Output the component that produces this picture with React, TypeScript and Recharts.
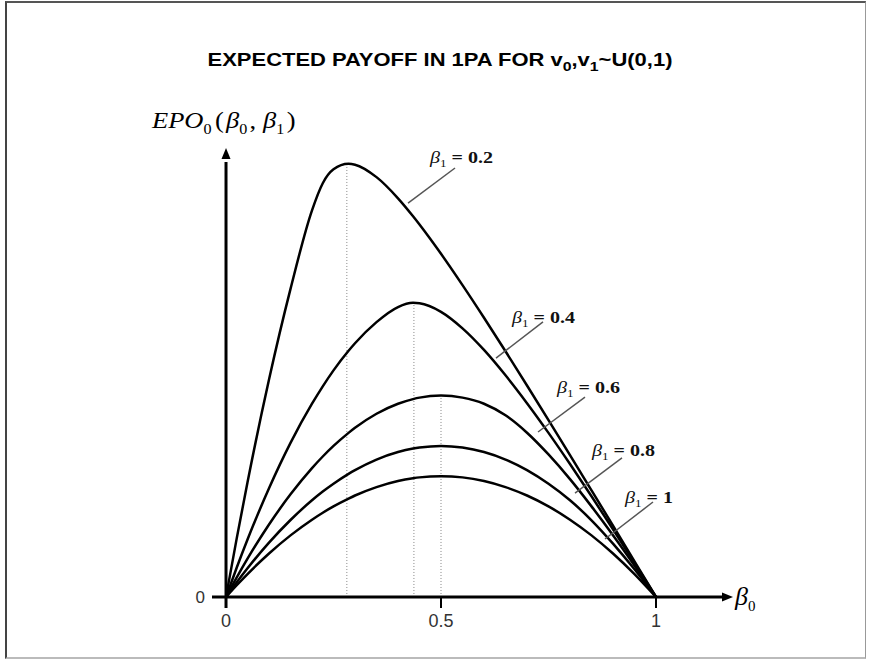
import { LineChart, Line, XAxis, YAxis, ReferenceLine, ReferenceDot } from 'recharts';

// beta_0 grid (x axis)
const BETA0 = [0, 0.025, 0.05, 0.1, 0.15, 0.2, 0.225, 0.25, 0.285, 0.3, 0.35, 0.4, 0.435, 0.45, 0.5, 0.55, 0.6, 0.65, 0.7, 0.75, 0.8, 0.85, 0.9, 0.95, 1];

// EPO_0(beta_0, beta_1), one array per beta_1
const EPO_B02 = [0, 0.0406, 0.0792, 0.15, 0.2125, 0.2667, 0.2854, 0.295, 0.2988, 0.2982, 0.2896, 0.275, 0.2626, 0.2569, 0.2367, 0.2151, 0.1926, 0.1695, 0.1459, 0.122, 0.0979, 0.0736, 0.0492, 0.0246, 0];
const EPO_B04 = [0, 0.0203, 0.0396, 0.075, 0.1063, 0.1333, 0.1453, 0.1563, 0.1698, 0.175, 0.1896, 0.2, 0.2029, 0.2026, 0.1967, 0.1853, 0.1704, 0.1529, 0.1337, 0.1132, 0.0917, 0.0695, 0.0467, 0.0235, 0];
const EPO_B06 = [0, 0.0135, 0.0264, 0.05, 0.0708, 0.0889, 0.0969, 0.1042, 0.1132, 0.1167, 0.1264, 0.1333, 0.1365, 0.1375, 0.1389, 0.1375, 0.1333, 0.1253, 0.1133, 0.0983, 0.0813, 0.0625, 0.0426, 0.0217, 0];
const EPO_B08 = [0, 0.0102, 0.0198, 0.0375, 0.0531, 0.0667, 0.0727, 0.0781, 0.0849, 0.0875, 0.0948, 0.1, 0.1024, 0.1031, 0.1042, 0.1031, 0.1, 0.0948, 0.0875, 0.0781, 0.0667, 0.0529, 0.0368, 0.0191, 0];
const EPO_B10 = [0, 0.0081, 0.0158, 0.03, 0.0425, 0.0533, 0.0581, 0.0625, 0.0679, 0.07, 0.0758, 0.08, 0.0819, 0.0825, 0.0833, 0.0825, 0.08, 0.0758, 0.07, 0.0625, 0.0533, 0.0425, 0.03, 0.0158, 0];

const BETA1_LABELS = ['0.2', '0.4', '0.6', '0.8', '1'];
const SERIES_KEYS = ['b02', 'b04', 'b06', 'b08', 'b10'];

// maxima marked with dotted drop lines
const PEAK_BETA0 = [0.281, 0.437, 0.5];
const PEAK_EPO = [0.2988, 0.2029, 0.1389];

const X_TICKS = [0, 0.5, 1];

const data = BETA0.map((b, i) => ({
  b,
  b02: EPO_B02[i],
  b04: EPO_B04[i],
  b06: EPO_B06[i],
  b08: EPO_B08[i],
  b10: EPO_B10[i],
}));

// annotation leader lines + label anchors (data coords)
const LEADERS = [
  { from: [0.4233, 0.2717], to: [0.5326, 0.2959], text: [0.4744, 0.2993] },
  { from: [0.6279, 0.1648], to: [0.7372, 0.1897], text: [0.6651, 0.189] },
  { from: [0.7256, 0.1138], to: [0.8349, 0.1379], text: [0.7698, 0.1407] },
  { from: [0.8116, 0.0717], to: [0.9209, 0.0959], text: [0.8512, 0.0972] },
  { from: [0.8814, 0.04], to: [0.993, 0.0655], text: [0.9279, 0.0648] },
];

const X_MIN = -0.0326;
const X_MAX = 1.1791;
const Y_MIN = -0.0076;
const Y_MAX = 0.3097;

const serif = "'Liberation Serif', 'Times New Roman', serif";
const sans = "'Liberation Sans', Arial, sans-serif";

const ArrowRight = (p: any) => (
  <polygon points={`${p.cx},${p.cy} ${p.cx - 11},${p.cy - 4.5} ${p.cx - 11},${p.cy + 4.5}`} fill="#000" />
);
const ArrowUp = (p: any) => (
  <polygon points={`${p.cx},${p.cy} ${p.cx - 4.5},${p.cy + 11} ${p.cx + 4.5},${p.cy + 11}`} fill="#000" />
);

// the original picture is a bit stretched sideways, so the text is too
const betaLabel = (label: string) => (p: any) => (
  <g transform={`translate(${p.cx},${p.cy}) scale(1.18,1)`}>
    <text x={0} y={0} fontFamily={serif} fontSize={17} fill="#111">
      <tspan fontStyle="italic">β</tspan>
      <tspan fontSize={11} dy={4}>1</tspan>
      <tspan dy={-4} fontWeight="bold">{' = ' + label}</tspan>
    </text>
  </g>
);

export default function App() {
  return (
    <div style={{ position: 'absolute', left: 0, top: 0, width: 870, height: 659, background: '#fff', overflow: 'hidden' }}>
      {/* frame */}
      <div
        style={{
          position: 'absolute', left: 5, top: 1, width: 861, height: 658, boxSizing: 'border-box',
          borderTop: '2px solid #555', borderLeft: '2px solid #444',
          borderRight: '1px solid #999', borderBottom: '2px solid #bbb',
        }}
      />

      {/* title */}
      <div
        style={{
          position: 'absolute', left: 440, top: 50, transform: 'translateX(-50%) scaleX(1.22)',
          whiteSpace: 'nowrap', fontFamily: sans, fontWeight: 'bold', fontSize: 18, lineHeight: '20px', color: '#000',
        }}
      >
        EXPECTED PAYOFF IN 1PA FOR v<sub style={{ fontSize: 13 }}>0</sub>,v<sub style={{ fontSize: 13 }}>1</sub>~U(0,1)
      </div>

      {/* y label */}
      <div
        style={{
          position: 'absolute', left: 152, top: 108, whiteSpace: 'nowrap', transform: 'scaleX(1.15)', transformOrigin: 'left top',
          fontFamily: serif, fontSize: 23, lineHeight: '26px', color: '#000',
        }}
      >
        <i>EPO</i><sub style={{ fontSize: 14 }}>0</sub>
        <span style={{ marginLeft: 3 }}>(</span>
        <i style={{ marginLeft: 2 }}>β</i><sub style={{ fontSize: 14 }}>0</sub>
        <span style={{ marginLeft: 2 }}>,</span>
        <i style={{ marginLeft: 6 }}>β</i><sub style={{ fontSize: 14 }}>1</sub>
        <span style={{ marginLeft: 2 }}>)</span>
      </div>

      {/* x label */}
      <div
        style={{
          position: 'absolute', left: 735, top: 583, whiteSpace: 'nowrap',
          fontFamily: serif, fontSize: 26, lineHeight: '28px', color: '#000',
        }}
      >
        <i>β</i><sub style={{ fontSize: 15 }}>0</sub>
      </div>

      <div style={{ position: 'absolute', left: 0, top: 0 }}>
        <LineChart width={870} height={659} data={data} margin={{ top: 148, right: 137, bottom: 21, left: 172 }}>
          <XAxis
            dataKey="b"
            type="number"
            domain={[X_MIN, X_MAX]}
            allowDataOverflow
            ticks={X_TICKS}
            axisLine={false}
            tickLine={false}
            tickSize={0}
            tickMargin={6}
            height={30}
            tick={{ fontFamily: sans, fontSize: 18, fill: '#333' }}
          />
          <YAxis
            type="number"
            domain={[Y_MIN, Y_MAX]}
            allowDataOverflow
            ticks={[0]}
            axisLine={false}
            tickLine={false}
            tickSize={0}
            tickMargin={7}
            width={40}
            tick={{ fontFamily: sans, fontSize: 17, fill: '#333' }}
          />

          {PEAK_BETA0.map((b, i) => (
            <ReferenceLine
              key={'pk' + i}
              segment={[{ x: b, y: 0 }, { x: b, y: PEAK_EPO[i] }]}
              stroke="#888"
              strokeWidth={1}
              strokeDasharray="1 2"
            />
          ))}

          {/* axes with arrows */}
          <ReferenceLine segment={[{ x: X_MIN, y: 0 }, { x: 1.162, y: 0 }]} stroke="#000" strokeWidth={3} ifOverflow="visible" />
          <ReferenceLine segment={[{ x: 0, y: Y_MIN }, { x: 0, y: 0.3 }]} stroke="#000" strokeWidth={3} ifOverflow="visible" />
          {X_TICKS.slice(1).map((t) => (
            <ReferenceLine key={'t' + t} segment={[{ x: t, y: 0 }, { x: t, y: Y_MIN }]} stroke="#000" strokeWidth={2} ifOverflow="visible" />
          ))}
          <ReferenceDot x={X_MAX} y={0} ifOverflow="visible" shape={ArrowRight} />
          <ReferenceDot x={0} y={Y_MAX} ifOverflow="visible" shape={ArrowUp} />

          {SERIES_KEYS.map((k) => (
            <Line
              key={k}
              dataKey={k}
              type="monotone"
              stroke="#000"
              strokeWidth={2.5}
              dot={false}
              isAnimationActive={false}
            />
          ))}

          {LEADERS.map((l, i) => (
            <ReferenceLine
              key={'ld' + i}
              segment={[{ x: l.from[0], y: l.from[1] }, { x: l.to[0], y: l.to[1] }]}
              stroke="#555"
              strokeWidth={1.5}
              ifOverflow="visible"
            />
          ))}
          {LEADERS.map((l, i) => (
            <ReferenceDot
              key={'lb' + i}
              x={l.text[0]}
              y={l.text[1]}
              ifOverflow="visible"
              shape={betaLabel(BETA1_LABELS[i])}
            />
          ))}
        </LineChart>
      </div>
    </div>
  );
}
